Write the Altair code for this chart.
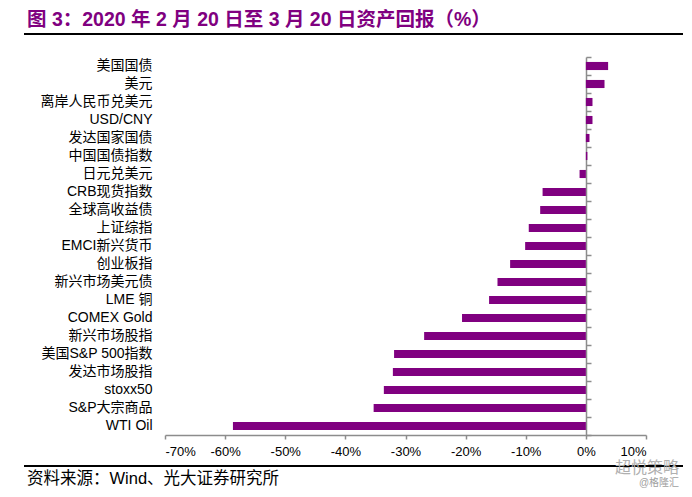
import altair as alt
import pandas as pd

categories = ["美国国债", "美元", "离岸人民币兑美元", "USD/CNY", "发达国家国债", "中国国债指数",
              "日元兑美元", "CRB现货指数", "全球高收益债", "上证综指", "EMCI新兴货币", "创业板指",
              "新兴市场美元债", "LME 铜", "COMEX Gold", "新兴市场股指", "美国S&P 500指数",
              "发达市场股指", "stoxx50", "S&P大宗商品", "WTI  Oil"]
returns = [3.7, 3.1, 1.1, 1.1, 0.6, 0.25, -1.05, -7.2, -7.6, -9.5, -10.1, -12.6,
           -14.7, -16.1, -20.6, -26.9, -31.9, -32.1, -33.6, -35.3, -58.7]
x_ticks = [-70, -60, -50, -40, -30, -20, -10, 0, 10]

title_text = "图 3：2020 年 2 月 20 日至 3 月 20 日资产回报（%）"
source_text = "资料来源：Wind、光大证券研究所"

df = pd.DataFrame({"cat": categories, "ret": returns})
one = pd.DataFrame({"a": [0]})

FONT = "Liberation Sans, Noto Sans CJK SC"
PURPLE = "#800080"
GREY = "#8c8c8c"

xscale = alt.Scale(domain=[-70, 10], nice=False, zero=False)
yscale = alt.Scale(domain=categories, paddingInner=0, paddingOuter=0)

bars = alt.Chart(df).mark_bar(color=PURPLE, height=alt.RelativeBandSize(0.45)).encode(
    x=alt.X("ret:Q", scale=xscale,
            axis=alt.Axis(values=x_ticks, labelExpr="datum.value + '%'", grid=False, title=None,
                          domainColor=GREY, domainWidth=1.5, tickColor=GREY, tickWidth=1.5,
                          tickSize=4, labelPadding=6, labelFontSize=13, labelColor="#000000",
                          labelFont=FONT)),
    y=alt.Y("cat:N", sort=categories, scale=yscale,
            axis=alt.Axis(orient="left", domain=False, ticks=False, labelPadding=13,
                          labelFontSize=14, labelColor="#000000", labelFont=FONT,
                          labelLimit=300, title=None)),
)

zero_axis = alt.Chart(df).mark_bar(opacity=0, height=alt.RelativeBandSize(0.45)).encode(
    x=alt.X("ret:Q", scale=xscale),
    y=alt.Y("cat:N", sort=categories, scale=yscale,
            axis=alt.Axis(orient="right", offset=-60, labels=False, tickBand="extent",
                          tickSize=5, tickColor=GREY, tickWidth=1.5, domainColor=GREY,
                          domainWidth=1.5, title=None, grid=False)),
)

title = alt.Chart(one).mark_text(align="left", baseline="middle", fontSize=19.5, fontWeight="bold",
                                 color=PURPLE, font=FONT).encode(
    x=alt.value(-138), y=alt.value(-37), text=alt.value(title_text))

title_line = alt.Chart(one).mark_rule(color="#000000", strokeWidth=2).encode(
    x=alt.value(-141), x2=alt.value(518), y=alt.value(-23))

foot_line = alt.Chart(one).mark_rule(color="#000000", strokeWidth=2).encode(
    x=alt.value(-141), x2=alt.value(518), y=alt.value(409))

source = alt.Chart(one).mark_text(align="left", baseline="middle", fontSize=16.5, color="#000000",
                                  font=FONT).encode(
    x=alt.value(-138), y=alt.value(422), text=alt.value(source_text))

wm1 = alt.Chart(one).mark_text(align="center", baseline="middle", fontSize=16, color="#b0b0b0",
                               font=FONT).encode(
    x=alt.value(482), y=alt.value(411), text=alt.value("超悦策略"))

wm2 = alt.Chart(one).mark_text(align="center", baseline="middle", fontSize=10, color="#a0a0a0",
                               font=FONT).encode(
    x=alt.value(494), y=alt.value(426), text=alt.value("@格隆汇"))

chart = alt.layer(bars, zero_axis, title, title_line, foot_line, source, wm1, wm2).resolve_axis(
    y="independent"
).properties(
    width=481, height=378,
    autosize=alt.AutoSizeParams(type="none"),
    padding={"left": 157, "top": 49, "right": 38, "bottom": 54},
    background="#ffffff",
).configure_view(stroke=None)

chart.save("out.html", embed_options={"renderer": "svg", "actions": False})
